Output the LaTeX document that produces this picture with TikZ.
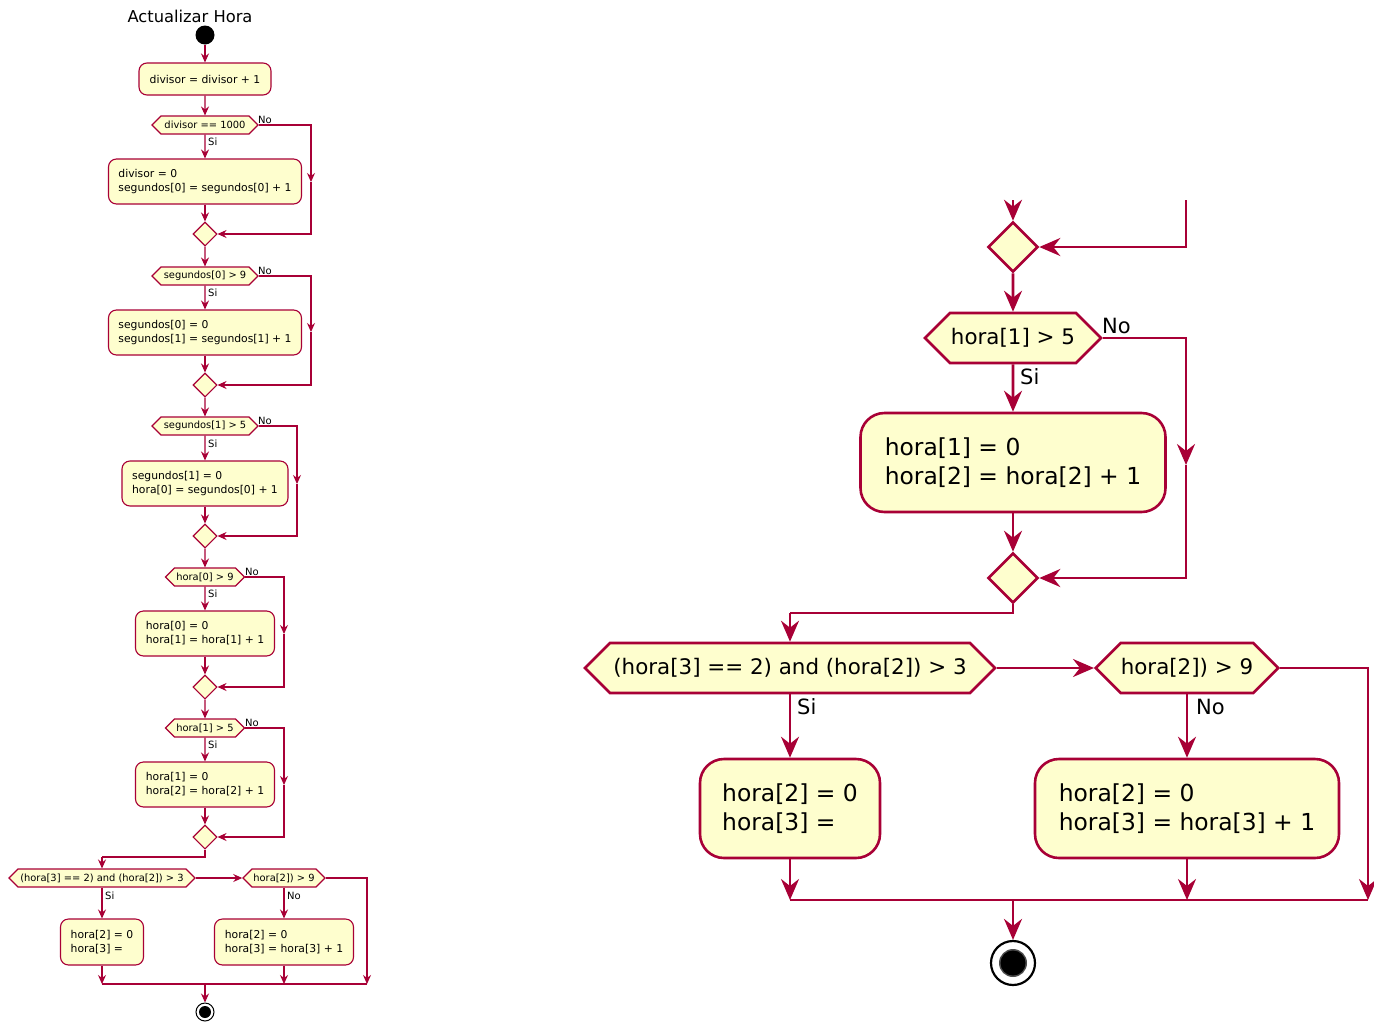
\documentclass[tikz,border=0pt]{standalone}
\usepackage{fontspec}
\setmainfont{DejaVu Sans}
\usetikzlibrary{arrows.meta,shapes.geometric,shapes.symbols}
\definecolor{crim}{HTML}{A80036}
\definecolor{cream}{HTML}{FEFECE}
\tikzset{
  sl/.style={line width=1.1pt, draw=crim},
  sarr/.style={sl, -{Stealth[length=9pt,width=8pt,inset=3pt]}},
  sfont/.style={font=\fontsize{10.8}{14}\selectfont},
  sact/.style={rectangle, rounded corners=8pt, draw=crim, fill=cream, line width=1.1pt, sfont, align=left, inner sep=0pt},
  shex/.style={signal, signal to=west and east, signal pointer angle=90, draw=crim, fill=cream, line width=1.1pt, font=\fontsize{9.9}{12}\selectfont, inner xsep=0pt, inner ysep=0pt, minimum height=18pt},
  sdia/.style={diamond, draw=crim, fill=cream, line width=1.1pt, minimum width=24pt, minimum height=24pt, inner sep=0pt},
  slab/.style={font=\fontsize{10}{12}\selectfont, inner sep=0pt},
  bl/.style={line width=2.6pt, draw=crim},
  barr/.style={bl, -{Stealth[length=21pt,width=18pt,inset=7pt]}},
  bfont/.style={font=\fontsize{23.4}{28.5}\selectfont},
  bact/.style={rectangle, rounded corners=24pt, draw=crim, fill=cream, line width=2.6pt, bfont, align=left, inner sep=0pt},
  bhex/.style={signal, signal to=west and east, signal pointer angle=90, draw=crim, fill=cream, line width=2.6pt, font=\fontsize{21.4}{26}\selectfont, inner xsep=0pt, inner ysep=0pt, minimum height=50pt},
  bdia/.style={diamond, draw=crim, fill=cream, line width=2.6pt, minimum width=50pt, minimum height=50pt, inner sep=0pt},
  blab/.style={font=\fontsize{21}{24}\selectfont, inner sep=0pt},
}
\begin{document}
\begin{tikzpicture}[x=1pt,y=-1pt]
\useasboundingbox[fill=white] (0,0) rectangle (1374,1023);

% ---------------- left diagram ----------------
\node[font=\fontsize{16.3}{19}\selectfont, inner sep=0pt] (title) at (190,16) {Actualizar Hora};
\node[circle, fill=black, minimum size=19pt, inner sep=0pt] (st) at (205,35) {};
\node[sact, minimum width=132pt, minimum height=32pt] (b1) at (205,79) {divisor = divisor + 1};
\node[shex, minimum width=106pt] (h1) at (205,125) {divisor == 1000};
\node[sact, minimum width=193pt, minimum height=45pt] (b2) at (205,181.5) {divisor = 0\\segundos[0] = segundos[0] + 1};
\node[sdia] (d1) at (205,234) {};
\node[shex, minimum width=106pt] (h2) at (205,276) {segundos[0] > 9};
\node[sact, minimum width=193pt, minimum height=45pt] (b3) at (205,332.5) {segundos[0] = 0\\segundos[1] = segundos[1] + 1};
\node[sdia] (d2) at (205,385) {};
\node[shex, minimum width=106pt] (h3) at (205,426) {segundos[1] > 5};
\node[sact, minimum width=166pt, minimum height=45pt] (b4) at (205,483.5) {segundos[1] = 0\\hora[0] = segundos[0] + 1};
\node[sdia] (d3) at (205,536) {};
\node[shex, minimum width=79pt] (h4) at (205,577) {hora[0] > 9};
\node[sact, minimum width=139pt, minimum height=45pt] (b5) at (205,633.5) {hora[0] = 0\\hora[1] = hora[1] + 1};
\node[sdia] (d4) at (205,687) {};
\node[shex, minimum width=79pt] (h5) at (205,728) {hora[1] > 5};
\node[sact, minimum width=139pt, minimum height=45pt] (b6) at (205,784.5) {hora[1] = 0\\hora[2] = hora[2] + 1};
\node[sdia] (d5) at (205,837) {};
\node[shex, minimum width=186pt] (h6) at (102,878) {(hora[3] == 2) and (hora[2]) > 3};
\node[shex, minimum width=82pt] (h7) at (284,878) {hora[2]) > 9};
\node[sact, minimum width=83pt, minimum height=46pt] (b7) at (102,942) {hora[2] = 0\\hora[3] =};
\node[sact, minimum width=139pt, minimum height=46pt] (b8) at (284,942) {hora[2] = 0\\hora[3] = hora[3] + 1};
\node[circle, draw=black, fill=white, line width=1pt, minimum size=18pt, inner sep=0pt] (en) at (205,1012) {};
\fill[black] (en.center) circle (6pt);

% labels
\node[slab, anchor=base west] (n1) at (258,123) {No};
\node[slab, anchor=west] (s1) at (208,142) {Si};
\node[slab, anchor=base west] (n2) at (258,274) {No};
\node[slab, anchor=west] (s2) at (208,293) {Si};
\node[slab, anchor=base west] (n3) at (258,424) {No};
\node[slab, anchor=west] (s3) at (208,444) {Si};
\node[slab, anchor=base west] (n4) at (245,575) {No};
\node[slab, anchor=west] (s4) at (208,594) {Si};
\node[slab, anchor=base west] (n5) at (245,726) {No};
\node[slab, anchor=west] (s5) at (208,745) {Si};
\node[slab, anchor=west] (s6) at (105,896) {Si};
\node[slab, anchor=west] (n6) at (287,896) {No};

% coordinates
\coordinate (m1) at (311,182);
\coordinate (m2) at (311,332);
\coordinate (m3) at (297,484);
\coordinate (m4) at (284,634);
\coordinate (m5) at (284,785);
\coordinate (k1) at (102,857);
\coordinate (j1) at (102,984);
\coordinate (j2) at (284,984);
\coordinate (j3) at (367,984);
\coordinate (jm) at (205,984);

% connectors
\draw[sarr] (st) -- (b1);
\draw[sarr] (b1) -- (h1);
\draw[sarr] (h1) -- (b2);
\draw[sarr] (b2) -- (d1);
\draw[sarr] (h1.east) -| (m1);
\draw[sarr] (m1) |- (d1.east);
\draw[sarr] (d1) -- (h2);
\draw[sarr] (h2) -- (b3);
\draw[sarr] (b3) -- (d2);
\draw[sarr] (h2.east) -| (m2);
\draw[sarr] (m2) |- (d2.east);
\draw[sarr] (d2) -- (h3);
\draw[sarr] (h3) -- (b4);
\draw[sarr] (b4) -- (d3);
\draw[sarr] (h3.east) -| (m3);
\draw[sarr] (m3) |- (d3.east);
\draw[sarr] (d3) -- (h4);
\draw[sarr] (h4) -- (b5);
\draw[sarr] (b5) -- (d4);
\draw[sarr] (h4.east) -| (m4);
\draw[sarr] (m4) |- (d4.east);
\draw[sarr] (d4) -- (h5);
\draw[sarr] (h5) -- (b6);
\draw[sarr] (b6) -- (d5);
\draw[sarr] (h5.east) -| (m5);
\draw[sarr] (m5) |- (d5.east);
\draw[sl] (d5.south) |- (k1);
\draw[sarr] (k1) -- (h6.north);
\draw[sarr] (h6.east) -- (h7.west);
\draw[sarr] (h6.south) -- (b7.north);
\draw[sarr] (h7.south) -- (b8.north);
\draw[sarr] (b7.south) -- (j1);
\draw[sarr] (b8.south) -- (j2);
\draw[sarr] (h7.east) -| (j3);
\draw[sl] (j1) -- (j3);
\draw[sarr] (jm) -- (en.north);

% ---------------- right (enlarged) diagram ----------------
\coordinate (t1) at (1013,200);
\coordinate (t2) at (1186,200);
\node[bdia] (D1) at (1013,247) {};
\node[bhex, minimum width=176pt] (H1) at (1013,338) {hora[1] > 5};
\node[bact, minimum width=305pt, minimum height=99pt] (B1) at (1013,462.5) {hora[1] = 0\\hora[2] = hora[2] + 1};
\node[bdia] (D2) at (1013,578) {};
\node[bhex, minimum width=410pt] (H2) at (790,668) {(hora[3] == 2) and (hora[2]) > 3};
\node[bhex, minimum width=182pt] (H3) at (1187,668) {hora[2]) > 9};
\node[bact, minimum width=180pt, minimum height=99pt] (B2) at (790,808.5) {hora[2] = 0\\hora[3] =};
\node[bact, minimum width=304pt, minimum height=99pt] (B3) at (1187,808.5) {hora[2] = 0\\hora[3] = hora[3] + 1};
\node[circle, draw=black, fill=white, line width=2.2pt, minimum size=44pt, inner sep=0pt] (EN) at (1013,963) {};
\fill[black!70] (EN.center) circle (14pt);
\fill[black] (EN.center) circle (12.5pt);

\node[blab, anchor=base west] (N1) at (1102,333) {No};
\node[blab, anchor=west] (S1) at (1020,377) {Si};
\node[blab, anchor=west] (S2) at (797,707) {Si};
\node[blab, anchor=west] (N2) at (1196,707) {No};

\coordinate (M1) at (1186,465);
\coordinate (K1) at (790,613);
\coordinate (J1) at (790,900);
\coordinate (J2) at (1187,900);
\coordinate (J3) at (1368,900);
\coordinate (JM) at (1013,900);

\draw[barr] (t1) -- (D1.north);
\draw[barr] (t2) |- (D1.east);
\draw[barr] (D1) -- (H1);
\draw[barr] (H1) -- (B1);
\draw[barr] (B1) -- (D2);
\draw[barr] (H1.east) -| (M1);
\draw[barr] (M1) |- (D2.east);
\draw[bl] (D2.south) |- (K1);
\draw[barr] (K1) -- (H2.north);
\draw[barr] (H2.east) -- (H3.west);
\draw[barr] (H2.south) -- (B2.north);
\draw[barr] (H3.south) -- (B3.north);
\draw[barr] (B2.south) -- (J1);
\draw[barr] (B3.south) -- (J2);
\draw[barr] (H3.east) -| (J3);
\draw[bl] (J1) -- (J3);
\draw[barr] (JM) -- (EN.north);
\end{tikzpicture}
\end{document}
